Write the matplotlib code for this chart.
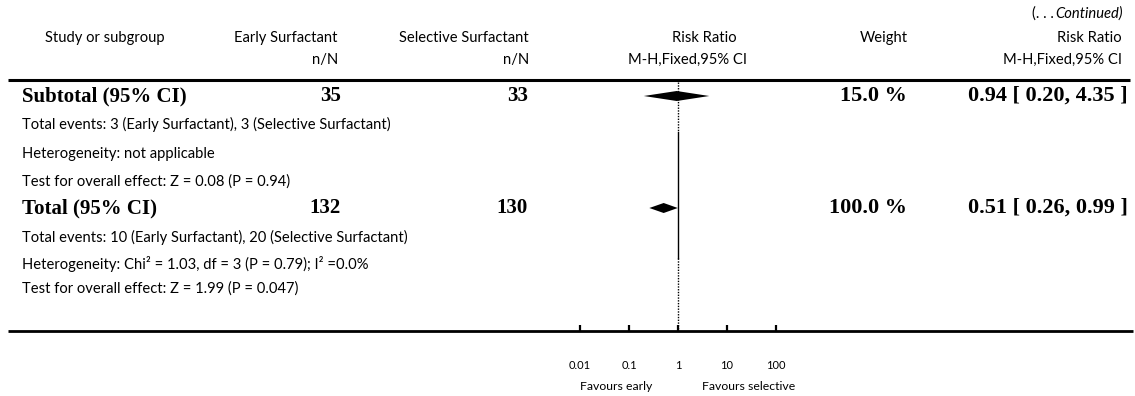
import matplotlib
matplotlib.use("Agg")
import matplotlib.pyplot as plt

# ---- data ----
subtotal_label = "Subtotal (95% CI)"
total_label = "Total (95% CI)"
early_n = [35, 132]
selective_n = [33, 130]
weights = [15.0, 100.0]
rr_est = [0.94, 0.51]
rr_lo = [0.20, 0.26]
rr_hi = [4.35, 0.99]
tick_values = [0.01, 0.1, 1, 10, 100]
tick_labels = ["0.01", "0.1", "1", "10", "100"]
subtotal_notes = [
    "Total events: 3 (Early Surfactant), 3 (Selective Surfactant)",
    "Heterogeneity: not applicable",
    "Test for overall effect: Z = 0.08 (P = 0.94)",
]
total_notes = [
    "Total events: 10 (Early Surfactant), 20 (Selective Surfactant)",
    "Heterogeneity: Chi\u00b2 = 1.03, df = 3 (P = 0.79); I\u00b2 =0.0%",
    "Test for overall effect: Z = 1.99 (P = 0.047)",
]

W, H, DPI = 1135, 396, 100
fig = plt.figure(figsize=(W / DPI, H / DPI), dpi=DPI)
fig.patch.set_facecolor("white")

# canvas axes in pixel units (y downwards)
ax = fig.add_axes([0, 0, 1, 1])
ax.set_xlim(0, W)
ax.set_ylim(H, 0)
ax.axis("off")

SANS = "Lato"
SERIF = "Liberation Serif"
small = dict(family=SANS, fontsize=10.6, color="black", va="center")
bold = dict(family=SERIF, fontsize=15, fontweight="bold", color="black", va="center")
bold_wide = dict(bold, fontsize=16)

# header
renderer = fig.canvas.get_renderer()
cont = ax.text(1123, 14, "Continued)", ha="right", style="italic", **small)
cw = cont.get_window_extent(renderer).width
ax.text(1123 - cw - 2, 14, "(. . .", ha="right", **small)
ax.text(105, 38, "Study or subgroup", ha="center", **small)
ax.text(338, 38, "Early Surfactant", ha="right", **small)
ax.text(338, 60, "n/N", ha="right", **small)
ax.text(529, 38, "Selective Surfactant", ha="right", **small)
ax.text(529, 60, "n/N", ha="right", **small)
ax.text(737, 38, "Risk Ratio", ha="right", **small)
ax.text(747, 60, "M-H,Fixed,95% CI", ha="right", **small)
ax.text(884, 38, "Weight", ha="center", **small)
ax.text(1122, 38, "Risk Ratio", ha="right", **small)
ax.text(1122, 60, "M-H,Fixed,95% CI", ha="right", **small)

ax.plot([8, 1130], [80, 80], color="black", lw=2.2, solid_capstyle="butt")
ax.plot([8, 1133], [331, 331], color="black", lw=2.0, solid_capstyle="butt")

# summary rows
row_y = [96, 208]
note_y = [[124, 154, 182], [237, 264, 289]]
labels = [subtotal_label, total_label]
for i in range(2):
    y = row_y[i]
    ax.text(22, y, labels[i], ha="left", **bold)
    ax.text(341, y, str(early_n[i]), ha="right", **bold)
    ax.text(528, y, str(selective_n[i]), ha="right", **bold)
    ax.text(907, y, f"{weights[i]:.1f} %", ha="right", **bold_wide)
    ax.text(1128, y, f"{rr_est[i]:.2f} [ {rr_lo[i]:.2f}, {rr_hi[i]:.2f} ]", ha="right", **bold_wide)
notes = [subtotal_notes, total_notes]
for i in range(2):
    for yy, t in zip(note_y[i], notes[i]):
        ax.text(22, yy, t, ha="left", **small)

# forest plot axes: log scale, y in the same pixel units
x0, x1 = 580, 776
y_top, y_bot = 82, 331
fa = fig.add_axes([x0 / W, (H - y_bot) / H, (x1 - x0) / W, (y_bot - y_top) / H])
fa.set_xscale("log")
fa.set_xlim(tick_values[0], tick_values[-1])
fa.set_ylim(y_bot, y_top)
fa.patch.set_alpha(0)
for s in fa.spines.values():
    s.set_visible(False)
fa.set_yticks([])
fa.set_xticks(tick_values)
fa.set_xticklabels(tick_labels, family=SANS, fontsize=8)
fa.minorticks_off()
fa.tick_params(axis="x", direction="in", length=4, width=1.6, pad=21)

# line of no effect: dotted near the ends, solid through the middle
fa.plot([1, 1], [y_top, 132], color="black", lw=1.0, ls=(0, (1, 1)))
fa.plot([1, 1], [132, 258], color="black", lw=1.0)
fa.plot([1, 1], [258, y_bot], color="black", lw=1.0, ls=(0, (1, 1)))

for i in range(2):
    y = row_y[i]
    h = 5
    fa.fill([rr_lo[i], rr_est[i], rr_hi[i], rr_est[i]], [y, y - h, y, y + h],
            color="black", lw=0)

fig.text(616 / W, 1 - 387 / H, "Favours early", ha="center", va="center", family=SANS, fontsize=8.8)
fig.text(749 / W, 1 - 387 / H, "Favours selective", ha="center", va="center", family=SANS, fontsize=8.8)

fig.savefig("out.png", dpi=DPI, facecolor="white")
